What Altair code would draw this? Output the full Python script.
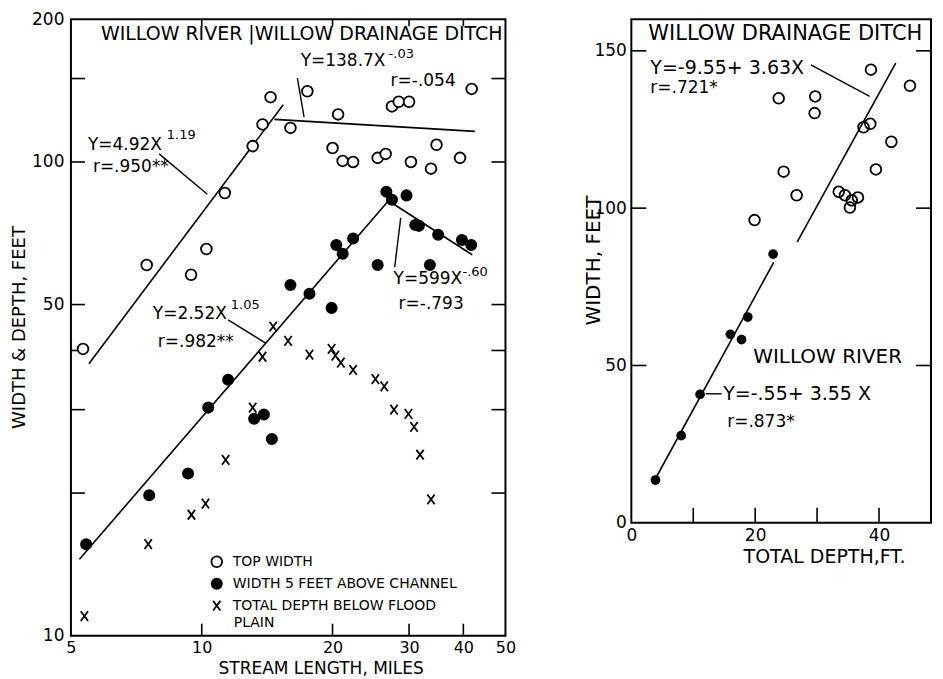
import math
import altair as alt
import pandas as pd

FONT = "DejaVu Sans"

# ---------------- LEFT PANEL: stream length vs width & depth ----------------
series_names = ["TOP WIDTH", "WIDTH 5 FEET ABOVE CHANNEL", "TOTAL DEPTH BELOW FLOOD PLAIN"]

top_width_x = [5.33, 7.47, 9.45, 10.25, 11.3, 13.1, 13.8, 14.4, 16.0, 17.5, 20.6, 20.0,
               21.1, 22.3, 25.4, 26.5, 27.4, 28.4, 30.0, 30.3, 33.7, 34.7, 39.3, 41.8]
top_width_y = [40.3, 60.6, 57.8, 65.5, 86, 108, 120, 137, 118, 141, 126, 107,
               100.5, 100, 102, 104, 131, 134, 134, 100, 96.8, 108.7, 102, 142.6]

width5_x = [5.42, 7.57, 9.3, 10.35, 11.5, 13.2, 13.9, 14.5, 16.0, 17.7, 19.9, 20.4,
            21.1, 22.3, 25.4, 26.6, 27.4, 29.6, 31.0, 31.6, 33.5, 35.0, 39.7, 41.7]
width5_y = [15.6, 19.8, 22.0, 30.3, 34.7, 28.7, 29.3, 26.0, 55, 52.7, 49.2, 66.8,
            64, 68.9, 60.6, 86.5, 83.2, 85, 73.6, 73.3, 60.6, 70.2, 68.4, 66.8]

depth_x = [5.37, 7.53, 9.47, 10.2, 11.35, 13.1, 13.8, 14.6, 15.8, 17.7, 19.9, 20.3,
           20.9, 22.3, 25.1, 26.3, 27.7, 29.9, 30.8, 31.8, 33.7]
depth_y = [11.0, 15.6, 18.0, 19.0, 23.5, 30.3, 38.8, 44.9, 41.9, 39.2, 40.3, 39.0,
           37.7, 36.4, 34.8, 33.6, 30.0, 29.4, 27.6, 24.1, 19.4]

left_fit_seg = ["rt", "rt", "dt", "dt", "rw", "rw", "dw", "dw"]
left_fit_x = [5.5, 15.4, 14.7, 42.5, 5.23, 26.9, 26.9, 41.9]
left_fit_y = [37.5, 132, 123, 116, 14.5, 82.8, 82.8, 63.7]

left_lead_seg = ["a", "a", "b", "b", "c", "c", "d", "d"]
left_lead_x = [7.98, 10.3, 16.6, 17.2, 28.7, 27.8, 11.5, 14.0]
left_lead_y = [104, 85.5, 150.3, 124.4, 76.2, 60.0, 46.4, 41.5]

left_ytick_vals = [20, 30, 40, 50, 100, 150]
left_xtick_vals = [10, 20, 30, 40]

# ---------------- RIGHT PANEL: total depth vs width ----------------
ditch_x = [38.7, 45.0, 23.8, 29.7, 29.6, 37.5, 38.6, 42.0, 39.5, 24.6, 26.7, 33.5,
           34.5, 35.6, 36.6, 35.3, 19.9]
ditch_y = [144, 138.9, 134.9, 135.5, 130.2, 125.7, 126.8, 121.1, 112.3, 111.6, 104.1, 105.2,
           104.1, 102.5, 103.4, 100.2, 96.2]
river_x = [3.9, 8.05, 11.1, 16.0, 17.8, 18.8, 22.9]
river_y = [13.6, 27.7, 40.8, 59.9, 58.2, 65.4, 85.4]

right_fit_seg = ["r", "r", "d", "d"]
right_fit_x = [4.0, 23.0, 26.8, 42.7]
right_fit_y = [14.4, 82.8, 89.3, 146.1]

right_lead_seg = ["a", "a", "b", "b"]
right_lead_x = [29.0, 38.5, 12.0, 14.6]
right_lead_y = [145.5, 135.5, 41.0, 41.0]

right_ytick_vals = [50, 100, 150]
right_xtick_vals = [10, 20, 30, 40]

# ---------------- layout ----------------
W1, H1 = 435, 617
W2, H2 = 300, 504
XD1, YD1 = [5, 50], [10, 200]
XD2, YD2 = [0, 48.4], [0, 160]

XPATH = "M-0.75,-1L0.75,1M0.75,-1L-0.75,1"

xs1 = alt.Scale(type="log", domain=XD1, nice=False)
ys1 = alt.Scale(type="log", domain=YD1, nice=False)
xs2 = alt.Scale(domain=XD2, nice=False, zero=False)
ys2 = alt.Scale(domain=YD2, nice=False)

common_axis = dict(ticks=False, domain=False, grid=False, labelFont=FONT,
                   labelColor="black", labelFlush=False, titleFont=FONT, titleColor="black",
                   titleFontWeight="normal", titleBaseline="middle")

xaxis1 = alt.Axis(values=[5, 10, 20, 30, 40, 50], format="d", labelPadding=4, labelFontSize=16,
                  title="STREAM LENGTH, MILES", titleFontSize=17, titleX=250, titleY=33,
                  **common_axis)
yaxis1 = alt.Axis(values=[10, 50, 100, 200], format="d", labelPadding=7, labelFontSize=17,
                  title="WIDTH & DEPTH, FEET", titleFontSize=18, titleX=-51, titleY=308,
                  titleAngle=270, **common_axis)
xaxis2 = alt.Axis(values=[0, 20, 40], format="d", labelPadding=5, labelFontSize=17,
                  title="TOTAL DEPTH,FT.", titleFontSize=19, titleX=193, titleY=34,
                  **common_axis)
yaxis2 = alt.Axis(values=[0, 50, 100, 150], format="d", labelPadding=5, labelFontSize=17,
                  title="WIDTH, FEET", titleFontSize=20, titleX=-38, titleY=241,
                  titleAngle=270, **common_axis)


def X1(f):
    return alt.X(f, type="quantitative", scale=xs1, axis=xaxis1)


def Y1(f):
    return alt.Y(f, type="quantitative", scale=ys1, axis=yaxis1)


def X2(f):
    return alt.X(f, type="quantitative", scale=xs2, axis=xaxis2)


def Y2(f):
    return alt.Y(f, type="quantitative", scale=ys2, axis=yaxis2)


def txt(s, px, py, size):
    return alt.Chart(pd.DataFrame({"t": [s]})).mark_text(
        align="left", baseline="middle", font=FONT, fontSize=size, color="black"
    ).encode(text="t:N", x=alt.value(px), y=alt.value(py))


def tick_layer(df, X, Y, path, length, width=1.6):
    # inward tick drawn as a point whose custom path is a stroke from its centre
    return alt.Chart(df).mark_point(shape=path, size=(2 * length) ** 2, filled=False,
                                    stroke="black", strokeWidth=width, opacity=1,
                                    clip=False).encode(x=X, y=Y)


def frame_layer(xd, yd, w, h, X, Y):
    df = pd.DataFrame({"x": [xd[0]], "y": [yd[0]]})
    path = f"M0,0H{w}V{-h}H0Z"
    return alt.Chart(df).mark_point(shape=path, size=4, filled=False, stroke="black",
                                    strokeWidth=2, opacity=1, clip=False).encode(x=X, y=Y)


# ---- left layers ----
pts = pd.concat([
    pd.DataFrame({"x": top_width_x, "y": top_width_y, "series": series_names[0]}),
    pd.DataFrame({"x": width5_x, "y": width5_y, "series": series_names[1]}),
    pd.DataFrame({"x": depth_x, "y": depth_y, "series": series_names[2]}),
], ignore_index=True)

legend = alt.Legend(title=None, orient="none", legendX=139, legendY=536, padding=0,
                    labelFont=FONT, labelFontSize=14, labelColor="black", labelOffset=9,
                    rowPadding=4, labelLimit=400, symbolStrokeWidth=1.8,
                    labelExpr="replace(datum.label, ' PLAIN', '')")

points_left = alt.Chart(pts).mark_point(filled=False, strokeWidth=1.8, opacity=1,
                                         fillOpacity=1, strokeOpacity=1).encode(
    x=X1("x"), y=Y1("y"),
    shape=alt.Shape("series:N", scale=alt.Scale(domain=series_names,
                                                range=["circle", "circle", XPATH]),
                    legend=legend),
    fill=alt.Fill("series:N", scale=alt.Scale(domain=series_names,
                                              range=["white", "black", "black"]),
                  legend=legend),
    stroke=alt.Stroke("series:N", scale=alt.Scale(domain=series_names,
                                                  range=["black", "black", "black"]),
                      legend=legend),
    size=alt.Size("series:N", scale=alt.Scale(domain=series_names, range=[115, 95, 100]),
                  legend=legend),
)

fits_left = alt.Chart(pd.DataFrame({"x": left_fit_x, "y": left_fit_y, "seg": left_fit_seg})
                      ).mark_line(color="black", strokeWidth=1.6).encode(
    x=X1("x"), y=Y1("y"), detail="seg:N")
leads_left = alt.Chart(pd.DataFrame({"x": left_lead_x, "y": left_lead_y, "seg": left_lead_seg})
                       ).mark_line(color="black", strokeWidth=1.4).encode(
    x=X1("x"), y=Y1("y"), detail="seg:N")

yl = pd.DataFrame({"x": XD1[0], "y": left_ytick_vals})
yr = pd.DataFrame({"x": XD1[1], "y": left_ytick_vals})
xb = pd.DataFrame({"x": left_xtick_vals, "y": YD1[0]})
xt = pd.DataFrame({"x": left_xtick_vals, "y": YD1[1]})
ticks_left = [
    tick_layer(yl, X1("x"), Y1("y"), "M0,0L1,0", 14),
    tick_layer(yr, X1("x"), Y1("y"), "M0,0L-1,0", 14),
    tick_layer(xb, X1("x"), Y1("y"), "M0,0L0,-1", 12),
    tick_layer(xt, X1("x"), Y1("y"), "M0,0L0,1", 7),
]

texts_left = [
    txt("WILLOW RIVER |WILLOW DRAINAGE DITCH", 30, 15, 19),
    txt("Y=138.7X", 230, 42, 17), txt("-.03", 318, 35, 13),
    txt("r=-.054", 320, 62, 17),
    txt("Y=4.92X", 17, 126, 17), txt("1.19", 96, 116, 13),
    txt("r=.950**", 22, 148, 17),
    txt("Y=599X", 323, 260, 17), txt("-.60", 392, 253, 13),
    txt("r=-.793", 328, 285, 17),
    txt("Y=2.52X", 82, 295, 17), txt("1.05", 160, 286, 13),
    txt("r=.982**", 87, 323, 17),
    txt("PLAIN", 163, 604, 14),
]

left = alt.layer(frame_layer(XD1, YD1, W1, H1, X1("x"), Y1("y")), *ticks_left,
                 fits_left, leads_left, points_left, *texts_left).properties(
    width=W1, height=H1)

# ---- right layers ----
open_right = alt.Chart(pd.DataFrame({"x": ditch_x, "y": ditch_y})).mark_point(
    shape="circle", filled=False, color="black", strokeWidth=1.8, size=115, opacity=1
).encode(x=X2("x"), y=Y2("y"))
dots_right = alt.Chart(pd.DataFrame({"x": river_x, "y": river_y})).mark_circle(
    color="black", size=95, opacity=1
).encode(x=X2("x"), y=Y2("y"))
fits_right = alt.Chart(pd.DataFrame({"x": right_fit_x, "y": right_fit_y, "seg": right_fit_seg})
                       ).mark_line(color="black", strokeWidth=1.6).encode(
    x=X2("x"), y=Y2("y"), detail="seg:N")
leads_right = alt.Chart(pd.DataFrame({"x": right_lead_x, "y": right_lead_y, "seg": right_lead_seg})
                        ).mark_line(color="black", strokeWidth=1.4).encode(
    x=X2("x"), y=Y2("y"), detail="seg:N")

ryl = pd.DataFrame({"x": XD2[0], "y": right_ytick_vals})
ryr = pd.DataFrame({"x": XD2[1], "y": right_ytick_vals})
rxb = pd.DataFrame({"x": right_xtick_vals, "y": YD2[0]})
ticks_right = [
    tick_layer(ryl, X2("x"), Y2("y"), "M0,0L1,0", 15),
    tick_layer(ryr, X2("x"), Y2("y"), "M0,0L-1,0", 15),
    tick_layer(rxb, X2("x"), Y2("y"), "M0,0L0,-1", 15),
]

texts_right = [
    txt("WILLOW DRAINAGE DITCH", 17, 15, 21),
    txt("Y=-9.55+ 3.63X", 19, 49, 19),
    txt("r=.721*", 19, 69, 17),
    txt("WILLOW    RIVER", 122, 338, 20),
    txt("Y=-.55+ 3.55 X", 92, 375, 19),
    txt("r=.873*", 96, 403, 17),
]

right = alt.layer(frame_layer(XD2, YD2, W2, H2, X2("x"), Y2("y")), *ticks_right,
                  fits_right, leads_right, open_right, dots_right,
                  *texts_right).properties(width=W2, height=H2)

chart = alt.hconcat(left, right, spacing=126, bounds="flush").properties(
    padding={"left": 3, "top": 2, "right": 0, "bottom": 0}
).configure(font=FONT).configure_view(stroke=None)

chart.save("out.html", embed_options={"renderer": "svg", "actions": False})
